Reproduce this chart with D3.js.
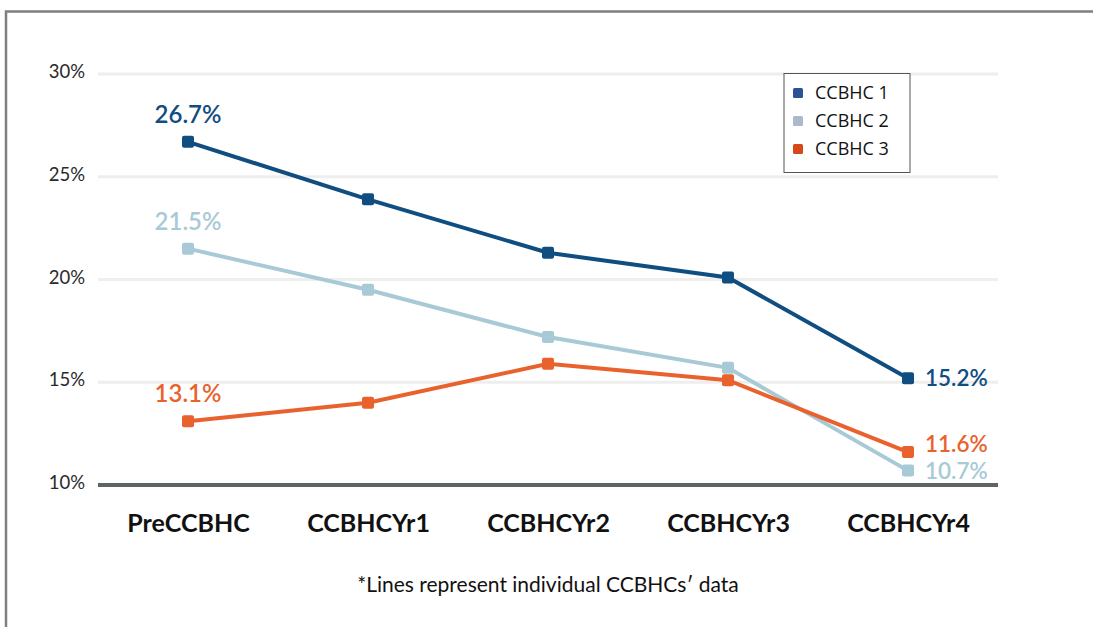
<!DOCTYPE html>
<html><head><meta charset="utf-8">
<script src="https://cdn.jsdelivr.net/npm/d3@7"></script>
<style>
body{margin:0;background:#fff;}
svg{display:block;}
</style></head>
<body>
<svg id="c" width="1093" height="627"></svg>
<script>
const categories = ["PreCCBHC","CCBHCYr1","CCBHCYr2","CCBHCYr3","CCBHCYr4"];
const seriesNames = ["CCBHC 1","CCBHC 2","CCBHC 3"];
const ccbhc1 = [26.7, 23.9, 21.3, 20.1, 15.2];
const ccbhc2 = [21.5, 19.5, 17.2, 15.7, 10.7];
const ccbhc3 = [13.1, 14.0, 15.9, 15.1, 11.6];
const yTicks = [10, 15, 20, 25, 30];
const lineColors = ["#104d80", "#a8cad6", "#e9622d"];
const legendColors = ["#2b5197", "#abb9cd", "#d3491a"];
const footnote = "*Lines represent individual CCBHCs\u2032 data";

const series = [ccbhc1, ccbhc2, ccbhc3];
const svg = d3.select("#c");

// frame
svg.append("path").attr("d","M6,1000 L6,11.5 L1093,11.5").attr("fill","none")
  .attr("stroke","#7f7f7f").attr("stroke-width",2.5);

const x = d3.scalePoint().domain(categories).range([98, 998]).padding(0.5);
const y = d3.scaleLinear().domain([10, 30]).range([485, 74]);

// gridlines
svg.append("g").selectAll("line").data(yTicks.filter(t=>t>10)).join("line")
  .attr("x1", 98).attr("x2", 998)
  .attr("y1", d=>y(d)).attr("y2", d=>y(d))
  .attr("stroke","#eeeeee").attr("stroke-width",3);

const lf = "Lato, 'Open Sans', sans-serif";

// y axis labels via axis
const yAxis = d3.axisLeft(y).tickValues(yTicks).tickFormat(d=>d+"%").tickSize(0).tickPadding(0);
const ya = svg.append("g").attr("transform","translate(85,0)").call(yAxis);
ya.select(".domain").remove();
ya.selectAll("text").attr("font-family",lf).attr("font-size",18.5)
  .attr("fill","#2a2a2a").attr("dy","0.2em");

// baseline
svg.append("line").attr("x1",98).attr("x2",998).attr("y1",y(10)).attr("y2",y(10))
  .attr("stroke","#5b6664").attr("stroke-width",4);

// x axis labels
const xAxis = d3.axisBottom(x).tickSize(0).tickPadding(0);
const xa = svg.append("g").attr("transform","translate(0,532)").call(xAxis);
xa.select(".domain").remove();
xa.selectAll("text").attr("font-family",lf).attr("font-size",25)
  .attr("font-weight",700).attr("fill","#111").attr("dy","0");

// lines & markers
const line = d3.line().x((d,i)=>x(categories[i])).y(d=>y(d));
series.forEach((s,k)=>{
  svg.append("path").datum(s).attr("d",line).attr("fill","none")
    .attr("stroke",lineColors[k]).attr("stroke-width",4);
});
series.forEach((s,k)=>{
  svg.append("g").selectAll("rect").data(s).join("rect")
    .attr("x",(d,i)=>x(categories[i])-6).attr("y",d=>y(d)-6)
    .attr("width",12).attr("height",12).attr("rx",2)
    .attr("fill",lineColors[k]);
});

// value labels
const endShift = [0, 0, -8];
series.forEach((s,k)=>{
  svg.append("text").attr("x", x(categories[0])).attr("y", y(s[0]) - 19)
    .attr("text-anchor","middle").attr("font-family",lf).attr("font-size",24)
    .attr("font-weight",600).attr("fill",lineColors[k]).text(s[0].toFixed(1)+"%");
  const last = s[s.length-1];
  svg.append("text").attr("x", x(categories[4]) + 17).attr("y", y(last) + 8 + endShift[k])
    .attr("text-anchor","start").attr("font-family",lf).attr("font-size",22.5)
    .attr("font-weight",600).attr("fill",lineColors[k]).text(last.toFixed(1)+"%");
});

// legend
const lg = svg.append("g");
lg.append("rect").attr("x",784).attr("y",73.5).attr("width",126).attr("height",99)
  .attr("fill","#fff").attr("stroke","#555").attr("stroke-width",1);
seriesNames.forEach((n,i)=>{
  const cy = 93 + i*28;
  lg.append("rect").attr("x",793).attr("y",cy-5).attr("width",10).attr("height",10).attr("rx",1.5)
    .attr("fill",legendColors[i]);
  lg.append("text").attr("x",815).attr("y",cy+6).attr("font-family","'Open Sans', sans-serif")
    .attr("font-size",18).attr("fill","#111").text(n);
});

// footnote
svg.append("text").attr("x",548).attr("y",592).attr("text-anchor","middle")
  .attr("font-family",lf).attr("font-size",21).attr("fill","#111").text(footnote);
</script>
</body></html>
